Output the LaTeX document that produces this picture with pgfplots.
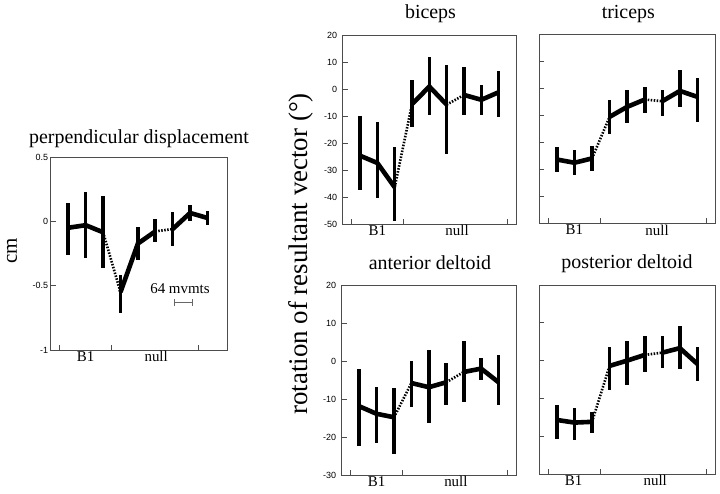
\documentclass[border=0pt]{standalone}
\usepackage{fontspec}
\setmainfont{Liberation Serif}
\setsansfont{Liberation Sans}
\usepackage{pgfplots}
\usepackage{pgfplotstable}
\pgfplotsset{compat=1.18}

\pgfplotstableread{
x y ep em
0 -0.05 0.19 0.21
1 -0.03 0.255 0.255
2 -0.085 0.285 0.275
3 -0.55 0.13 0.16
4 -0.173 0.129 0.127
5 -0.078 0.098 0.082
6 -0.06 0.13 0.13
7 0.065 0.065 0.065
8 0.026 0.054 0.056
}\perpdata

\pgfplotstableread{
x y ep em
0 -24.7 14.8 12.7
1 -27.4 15.1 13.0
2 -36.4 14.8 12.6
3 -5.6 9.1 8.6
4 0.9 11.1 10.5
5 -5.8 14.7 18.2
6 -2.2 10.5 7.3
7 -4.0 5.5 5.5
8 -1.2 7.7 9.2
}\bicepsdata

\pgfplotstableread{
x y ep em
0 -26.3 4.7 4.8
1 -27.5 4.7 4.6
2 -25.9 4.7 4.8
3 -10.5 6.4 6.2
4 -6.8 6.2 5.9
5 -4.1 4.5 4.8
6 -4.7 4.3 5.5
7 -0.9 7.9 6.1
8 -3.1 7.1 9.2
}\tricepsdata

\pgfplotstableread{
x y ep em
0 -11.9 9.9 10.4
1 -13.9 7.0 7.8
2 -14.8 7.7 9.7
3 -5.8 5.8 6.4
4 -6.9 9.7 9.4
5 -5.6 5.2 6.1
6 -2.9 8.2 8.0
7 -2.0 2.9 2.9
8 -5.6 7.1 6.1
}\anteriordata

\pgfplotstableread{
x y ep em
0 -15.7 4.0 5.0
1 -16.4 3.8 4.6
2 -16.2 2.7 3.0
3 -1.4 4.9 6.5
4 0.0 5.3 6.4
5 1.5 5.0 4.6
6 2.1 4.3 4.1
7 3.3 5.9 5.6
8 -0.9 4.4 4.4
}\posteriordata

\pgfplotsset{
  panel/.style={scale only axis, anchor=south west,
    axis line style={draw=black!70, line width=0.8bp},
    major tick style={draw=black!70, line width=0.7bp},
    major tick length=5bp,
    xtick pos=left, ytick pos=left,
    xticklabel=\empty,
    clip=false,
    yticklabel style={font=\sffamily\fontsize{9}{9}\selectfont}},
  mainline/.style={black, line width=4.6bp, line join=miter, no markers,
    error bars/y dir=both, error bars/y explicit, error bars/error mark=none,
    error bars/error bar style={line width=3.6bp, black, solid}},
  dotline/.style={black, line width=2.6bp, dash pattern=on 1.5bp off 1.5bp, no markers},
}

\newcommand\drawseries[1]{%
  \addplot[dotline, restrict x to domain=1.9:3.1] table[x=x,y=y]{#1};
  \addplot[dotline, restrict x to domain=4.9:6.1] table[x=x,y=y]{#1};
  \addplot[restrict x to domain=-0.1:2.1, mainline] table[x=x,y=y,y error plus=ep,y error minus=em]{#1};
  \addplot[restrict x to domain=2.9:5.1, mainline] table[x=x,y=y,y error plus=ep,y error minus=em]{#1};
  \addplot[restrict x to domain=5.9:8.1, mainline] table[x=x,y=y,y error plus=ep,y error minus=em]{#1};
}

\newcommand\catlabels[3]{%
  \node[anchor=north, font=\fontsize{15}{15}\selectfont, inner sep=1bp] at (axis cs:#1,#3) {B1};
  \node[anchor=north, font=\fontsize{15}{15}\selectfont, inner sep=1bp] at (axis cs:#2,#3) {null};
}

\begin{document}
\begin{tikzpicture}
\path[use as bounding box] (0,0) rectangle (720bp,494bp);

% left panel
\begin{axis}[panel, at={(50.7bp,144bp)}, width=176.3bp, height=193bp,
  xmin=-1.01, xmax=9.12, ymin=-1, ymax=0.5,
  xtick={-0.5,2.5,7.5},
  ytick={-1,-0.5,0,0.5}, yticklabels={-1,-0.5,0,0.5},
  yticklabel style={xshift=1bp}]
  \drawseries{\perpdata}
  \catlabels{1}{5.05}{-1}
  \draw[black!60, line width=0.6bp, |-|] (axis cs:6.09,-0.63) -- (axis cs:7.13,-0.63);
  \node[font=\fontsize{15}{15}\selectfont] at (axis cs:6.42,-0.524) {64 mvmts};
\end{axis}

% biceps
\begin{axis}[panel, at={(342.7bp,270bp)}, width=173.3bp, height=189bp,
  xmin=-1, xmax=9, ymin=-50, ymax=20,
  xtick={-0.5,2.5,8.5},
  ytick={-50,-40,-30,-20,-10,0,10,20},
  yticklabels={-50,-40,-30,-20,-10,0,10,20},
  yticklabel style={xshift=-2bp}]
  \drawseries{\bicepsdata}
  \catlabels{1}{5.6}{-50}
\end{axis}

% triceps
\begin{axis}[panel, at={(539.3bp,270.5bp)}, width=175.7bp, height=189bp,
  xmin=-1, xmax=9, ymin=-50, ymax=20,
  xtick={-0.5,2.5,8.5},
  ytick={-40,-30,-20,-10,0,10}, yticklabel=\empty]
  \drawseries{\tricepsdata}
  \catlabels{1}{5.7}{-50}
\end{axis}

% anterior deltoid
\begin{axis}[panel, at={(341.7bp,19bp)}, width=174.3bp, height=190bp,
  xmin=-1, xmax=9, ymin=-30, ymax=20,
  xtick={-0.5,2.5,8.5},
  ytick={-30,-20,-10,0,10,20},
  yticklabels={-30,-20,-10,0,10,20},
  yticklabel style={xshift=-2bp}]
  \drawseries{\anteriordata}
  \catlabels{1}{5.55}{-30}
\end{axis}

% posterior deltoid
\begin{axis}[panel, at={(539.3bp,20bp)}, width=175.7bp, height=189bp,
  xmin=-1, xmax=9, ymin=-30, ymax=20,
  xtick={-0.5,2.5,8.5},
  ytick={-20,-10,0,10}, yticklabel=\empty]
  \drawseries{\posteriordata}
  \catlabels{0.95}{5.6}{-30}
\end{axis}

% titles and labels
\node[anchor=base, font=\fontsize{20}{20}\selectfont] at (139bp,350.7bp) {perpendicular displacement};
\node[anchor=base, font=\fontsize{20}{20}\selectfont] at (430.5bp,475.5bp) {biceps};
\node[anchor=base, font=\fontsize{20}{20}\selectfont] at (628.3bp,475.5bp) {triceps};
\node[anchor=base, font=\fontsize{20}{20}\selectfont] at (430bp,224bp) {anterior deltoid};
\node[anchor=base, font=\fontsize{20}{20}\selectfont] at (627bp,225.7bp) {posterior deltoid};
\node[rotate=90, font=\fontsize{27}{27}\selectfont] at (301bp,240bp) {rotation of resultant vector (\textdegree)};
\node[rotate=90, font=\fontsize{21}{21}\selectfont] at (12bp,243.3bp) {cm};
\end{tikzpicture}
\end{document}
